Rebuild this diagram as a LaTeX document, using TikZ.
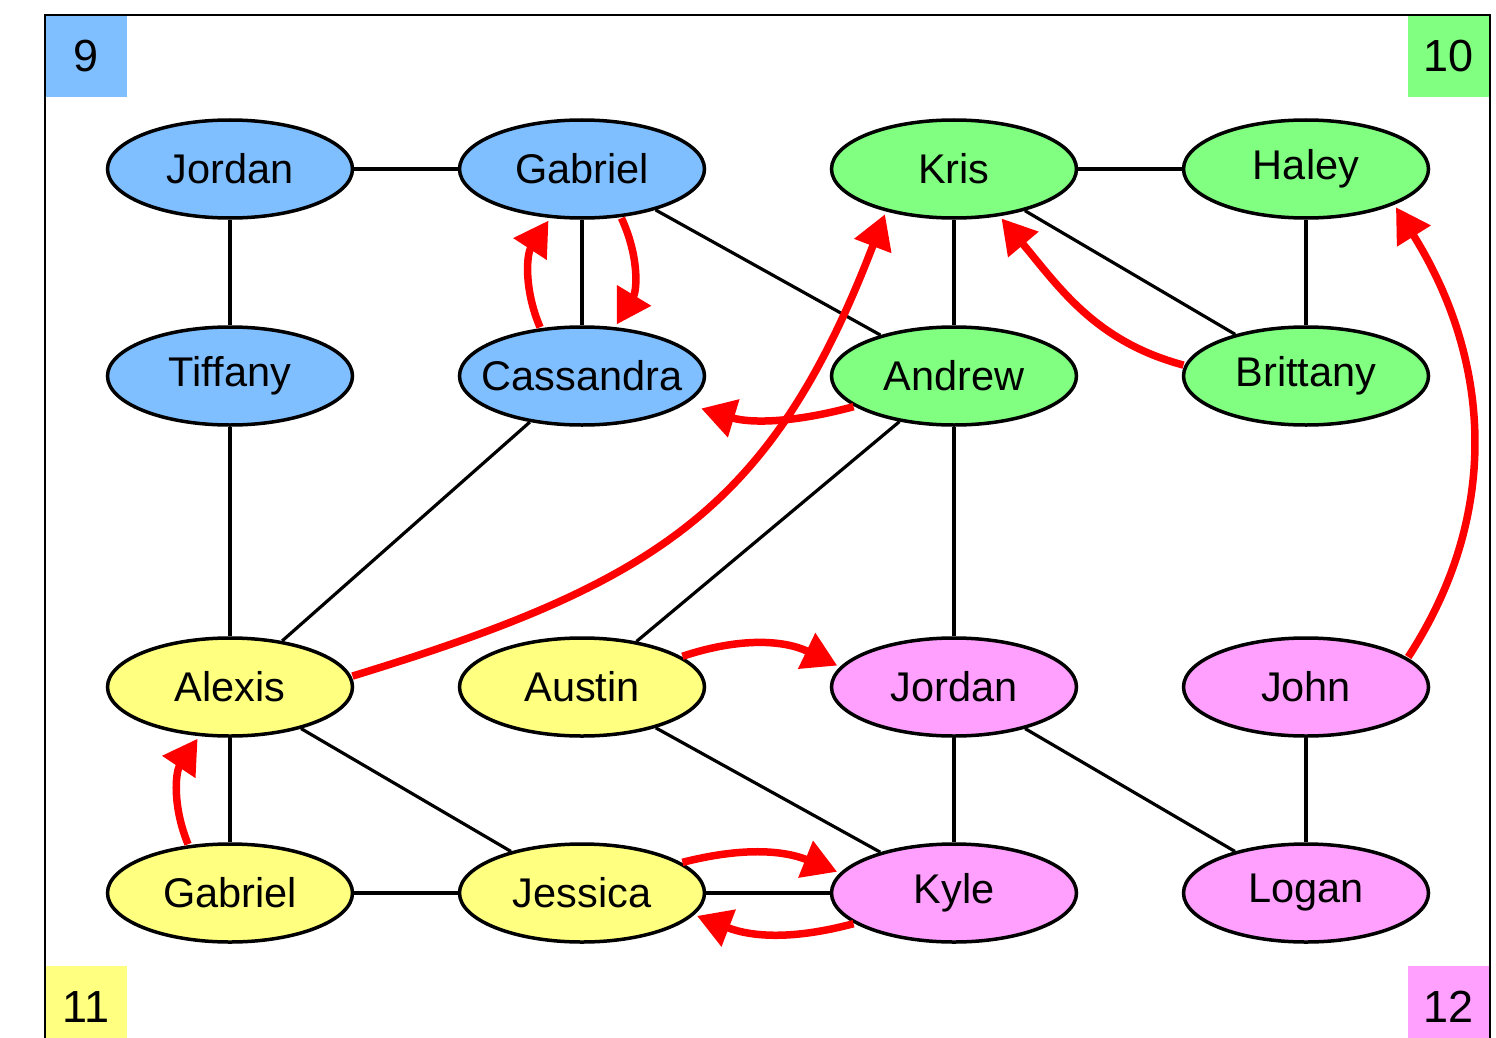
\documentclass[tikz,border=0pt]{standalone}
\usepackage{fontspec}
\setmainfont{Liberation Sans}
\usetikzlibrary{shapes.geometric,arrows.meta}
\definecolor{cblue}{RGB}{128,191,255}
\definecolor{cgreen}{RGB}{128,255,128}
\definecolor{cyellow}{RGB}{255,255,128}
\definecolor{cpink}{RGB}{255,160,255}
\newcommand{\pname}[1]{\makebox[0pt]{#1}}
\begin{document}
\begin{tikzpicture}[x=1pt,y=-1pt,
  person/.style={ellipse,draw=black,line width=3.5pt,minimum width=245pt,minimum height=98pt,inner sep=0pt,font=\fontsize{41.5}{48}\selectfont},
  link/.style={line width=3.2pt,black},
  rel/.style={red,line width=7.5pt,-{Triangle[length=34pt,width=38pt]},shorten >=3pt,shorten <=1pt},
  corner/.style={minimum width=82pt,minimum height=82pt,inner sep=0pt,font=\fontsize{45}{54}\selectfont}]
\useasboundingbox (0,0) rectangle (1496,1038);
\clip (0,0) rectangle (1496,1038);
\fill[white] (0,0) rectangle (1496,1038);
% corner boxes
\node[corner,fill=cblue,anchor=north west] (c9) at (45,15) {9};
\node[corner,fill=cgreen,anchor=north east] (c10) at (1490,15) {10};
\node[corner,fill=cyellow,anchor=north west] (c11) at (45,966) {\raisebox{-8pt}{11}};
\node[corner,fill=cpink,anchor=north east] (c12) at (1490,966) {\raisebox{-8pt}{12}};
\draw[line width=2.2pt] (45,1060) -- (45,15) -- (1490,15) -- (1490,1060);
% people
\node[person,fill=cblue] (jor1) at (230,169) {\pname{Jordan}};
\node[person,fill=cblue] (gab1) at (582,169) {\pname{Gabriel}};
\node[person,fill=cgreen] (kris) at (954,169) {\pname{Kris}};
\node[person,fill=cgreen] (haley) at (1306,169) {\pname{Haley}};
\node[person,fill=cblue] (tif) at (230,376) {\pname{Tiffany}};
\node[person,fill=cblue] (cass) at (582,376) {\pname{Cassandra}};
\node[person,fill=cgreen] (andrew) at (954,376) {\pname{Andrew}};
\node[person,fill=cgreen] (brit) at (1306,376) {\pname{Brittany}};
\node[person,fill=cyellow] (alexis) at (230,687) {\pname{Alexis}};
\node[person,fill=cyellow] (austin) at (582,687) {\pname{Austin}};
\node[person,fill=cpink] (jor2) at (954,687) {\pname{Jordan}};
\node[person,fill=cpink] (john) at (1306,687) {\pname{John}};
\node[person,fill=cyellow] (gab2) at (230,893) {\pname{Gabriel}};
\node[person,fill=cyellow] (jess) at (582,893) {\pname{Jessica}};
\node[person,fill=cpink] (kyle) at (954,893) {\pname{Kyle}};
\node[person,fill=cpink] (logan) at (1306,893) {\pname{Logan}};
% black links
\draw[link] (jor1) -- (gab1);
\draw[link] (jor1) -- (tif);
\draw[link] (gab1) -- (cass);
\draw[link] (gab1) -- (andrew);
\draw[link] (kris) -- (haley);
\draw[link] (kris) -- (andrew);
\draw[link] (kris) -- (brit);
\draw[link] (haley) -- (brit);
\draw[link] (tif) -- (alexis);
\draw[link] (cass) -- (alexis);
\draw[link] (andrew) -- (austin);
\draw[link] (andrew) -- (jor2);
\draw[link] (alexis) -- (gab2);
\draw[link] (alexis) -- (jess);
\draw[link] (austin) -- (kyle);
\draw[link] (jor2) -- (kyle);
\draw[link] (jor2) -- (logan);
\draw[link] (john) -- (logan);
\draw[link] (gab2) -- (jess);
\draw[link] (jess) -- (kyle);
% red arrows
\draw[rel] (cass.131) to[bend left=28] (gab1.237);
\draw[rel] (gab1.309) to[bend left=28] (cass.56);
\draw[rel,shorten >=16pt] (andrew.197) to[bend left=16] (cass.345);
\draw[rel] (alexis.5) to[out=17,in=249,looseness=1.15] (kris.212);
\draw[rel] (brit.175) to[out=165,in=-50] (kris.314);
\draw[rel] (john.16) to[out=57,in=302] (haley.338);
\draw[rel] (austin.17) to[bend left=22] (jor2.170);
\draw[rel] (gab2.131) to[bend left=28] (alexis.238);
\draw[rel] (jess.17) to[bend left=18] (kyle.170);
\draw[rel] (kyle.197) to[bend left=18] (jess.349);
\end{tikzpicture}
\end{document}
